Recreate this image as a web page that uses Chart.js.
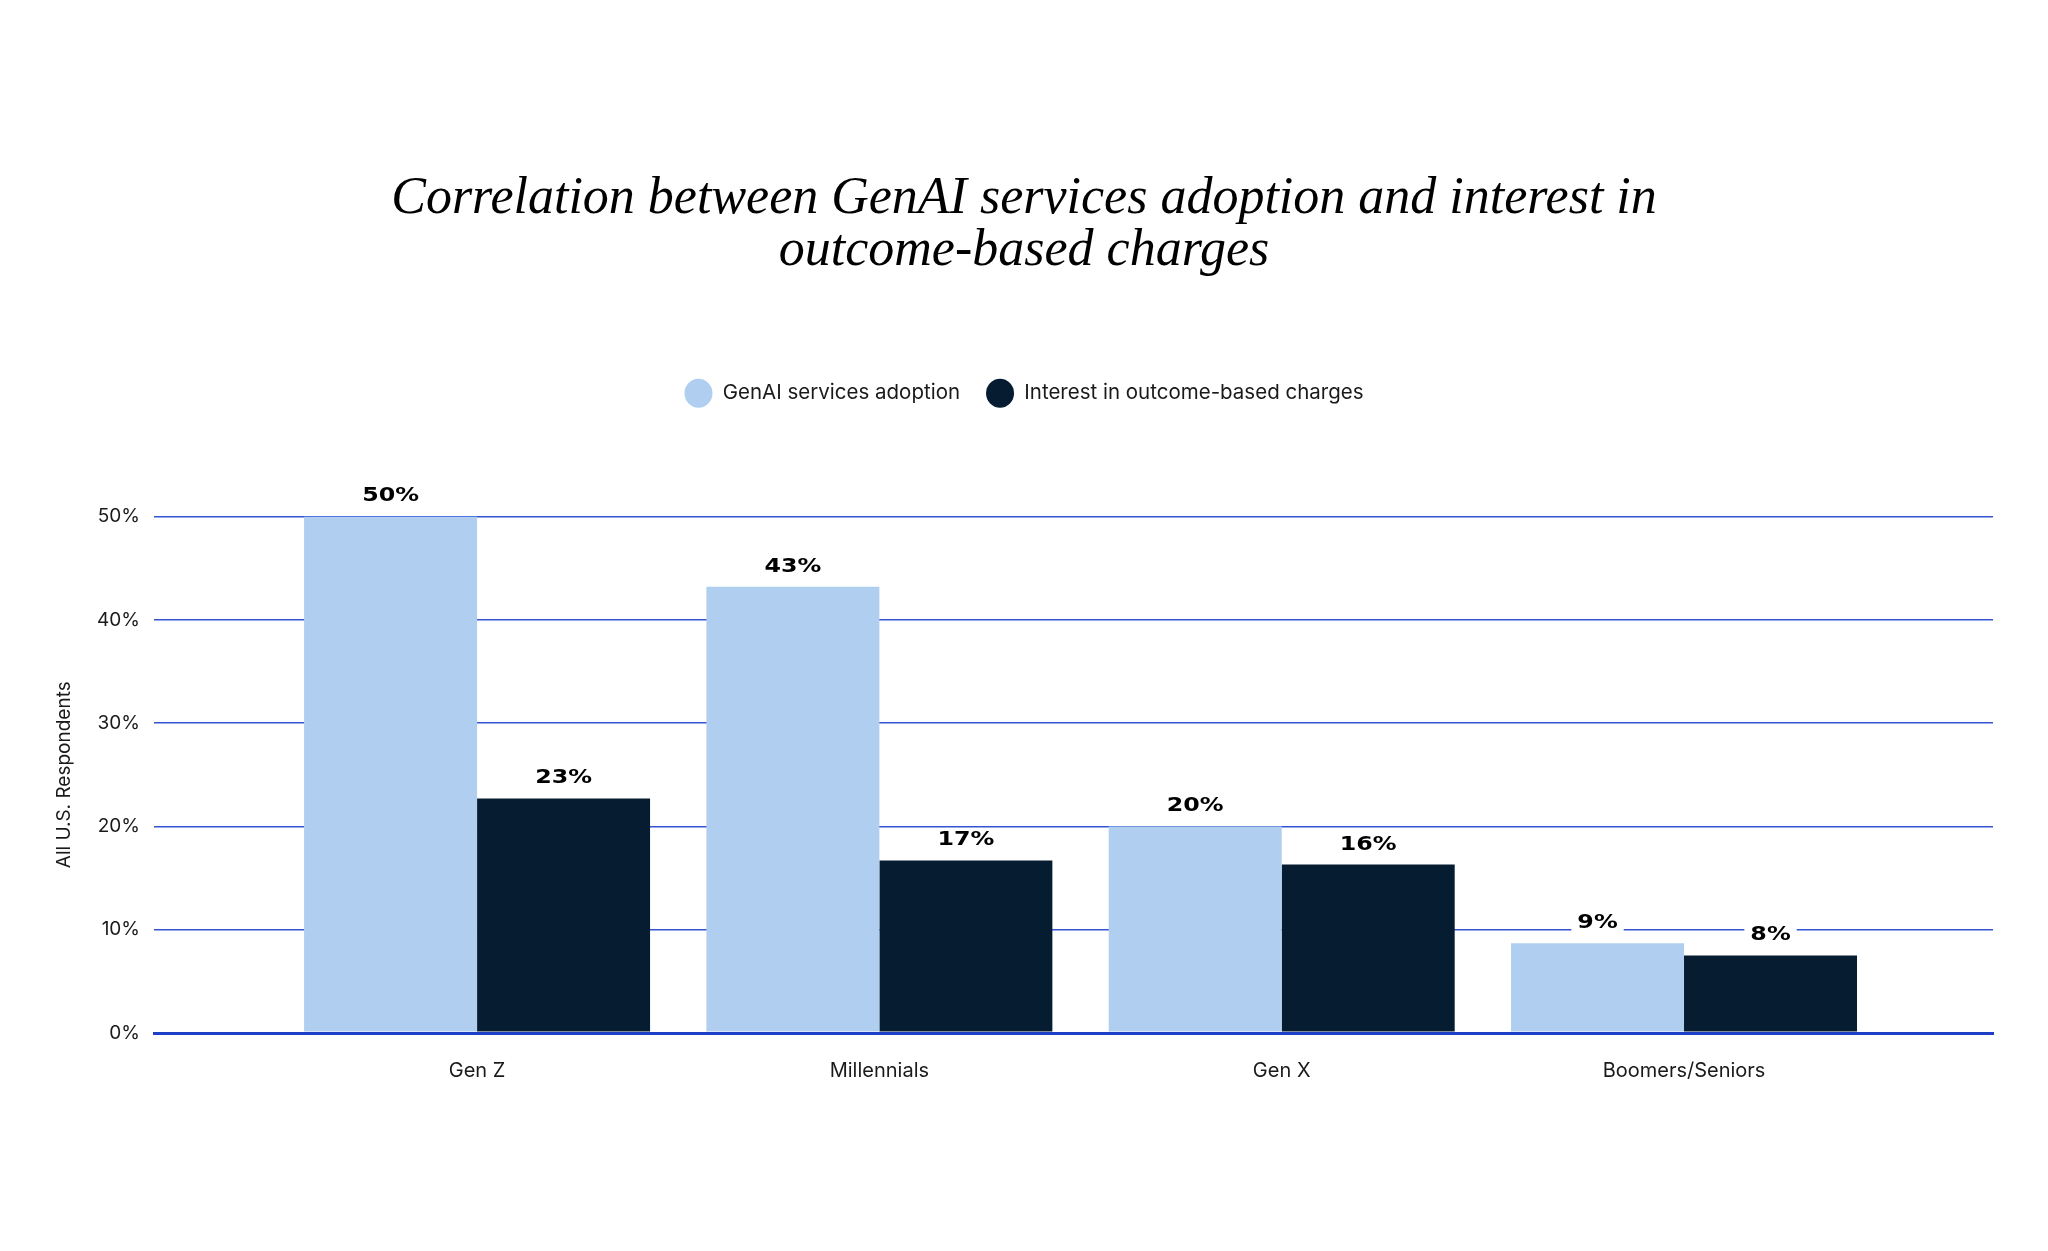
<!doctype html>
<html lang="en">
<head>
<meta charset="utf-8" />
<title>GenAI adoption vs outcome-based charges</title>
<script src="https://cdn.jsdelivr.net/npm/chart.js@4.4.4/dist/chart.umd.min.js"></script>
<style>
  html, body { margin: 0; padding: 0; background: #fff; }
  canvas { display: block; }
</style>
</head>
<body>
<canvas id="chart" width="2048" height="1251"></canvas>
<script>
// values (labels in the picture are rounded)
const generations = ["Gen Z", "Millennials", "Gen X", "Boomers/Seniors"];
const adoption = [50, 43.2, 20, 8.7];
const interest = [22.7, 16.7, 16.3, 7.5];
const yTicks = [0, 10, 20, 30, 40, 50];

const LIGHT = "#b0cff0";
const DARK = "#061c30";
const GRID = "#3355d4";
const ZERO = "#1d40c6";
const INK = "#1a1a1a";

// white-boxed percent labels above each bar (font stretched wide like the original)
const barLabels = {
  id: "barLabels",
  afterDatasetsDraw(chart) {
    const { ctx } = chart;
    const stretch = 1.25;
    ctx.save();
    ctx.font = "bold 19px 'DejaVu Sans'";
    ctx.textAlign = "center";
    ctx.textBaseline = "middle";
    chart.data.datasets.forEach((ds, i) => {
      chart.getDatasetMeta(i).data.forEach((bar, j) => {
        const txt = Math.round(ds.data[j].y) + "%";
        const w = ctx.measureText(txt).width * stretch + 12;
        const y = bar.y - 21;
        ctx.fillStyle = "#fff";
        ctx.fillRect(bar.x - w / 2, y - 11, w, 22);
        ctx.save();
        ctx.translate(bar.x, y + 1);
        ctx.scale(stretch, 1);
        ctx.fillStyle = "#000";
        ctx.fillText(txt, 0, 0);
        ctx.restore();
      });
    });
    ctx.restore();
  },
};

// extra room between the legend and the plot
const legendGap = {
  id: "legendGap",
  beforeLayout(chart) {
    const lg = chart.legend;
    if (!lg || lg._gapPatched) return;
    const fit = lg.fit;
    lg.fit = function () {
      fit.call(this);
      this.height += 103;
    };
    lg._gapPatched = true;
  },
};

new Chart(document.getElementById("chart"), {
  type: "bar",
  data: {
    datasets: [
      {
        label: "GenAI services adoption",
        data: adoption.map((v, i) => ({ x: i, y: v })),
        backgroundColor: LIGHT,
      },
      {
        label: "Interest in outcome-based charges",
        data: interest.map((v, i) => ({ x: i, y: v })),
        backgroundColor: DARK,
      },
    ],
  },
  options: {
    responsive: false,
    devicePixelRatio: 1,
    animation: false,
    categoryPercentage: 0.86,
    barPercentage: 1.0,
    layout: { padding: 0 },
    scales: {
      x: {
        type: "linear",
        offset: false,
        min: -0.803,
        max: 3.768,
        z: 1,
        afterBuildTicks: (s) => { s.ticks = generations.map((_, i) => ({ value: i })); },
        afterFit: (s) => { s.height = 218; },
        grid: { display: false, drawTicks: false },
        border: { display: true, color: ZERO, width: 3 },
        ticks: {
          autoSkip: false,
          maxRotation: 0,
          padding: 26,
          color: INK,
          font: { family: "Inter", size: 20 },
          callback: (v) => generations[v] ?? "",
        },
      },
      y: {
        min: 0,
        max: 50,
        afterBuildTicks: (s) => { s.ticks = yTicks.map((v) => ({ value: v })); },
        afterFit: (s) => { s.width = 154; },
        grid: {
          drawTicks: false,
          color: (c) => (c.tick && c.tick.value === 0 ? ZERO : GRID),
          lineWidth: (c) => (c.tick && c.tick.value === 0 ? 3 : 1.5),
        },
        border: { display: false },
        ticks: {
          padding: 14,
          color: INK,
          font: { family: "Inter", size: 19 },
          callback: (v) => v + "%",
        },
        title: {
          display: true,
          text: "All U.S. Respondents",
          color: INK,
          font: { family: "Inter", size: 19 },
          padding: { top: 53, bottom: 0 },
        },
      },
      // empty right-hand spacer so title and legend stay centred on the page
      yRight: {
        position: "right",
        grid: { display: false },
        border: { display: false },
        ticks: { display: false },
        afterFit: (s) => { s.width = 55; },
      },
    },
    plugins: {
      title: {
        display: true,
        text: ["Correlation between GenAI services adoption and interest in", "outcome-based charges"],
        color: "#000",
        font: { family: "'Liberation Serif'", size: 52, style: "italic", weight: "normal", lineHeight: 1.0 },
        padding: { top: 173, bottom: 80 },
      },
      legend: {
        position: "top",
        labels: {
          usePointStyle: true,
          pointStyle: "circle",
          pointStyleWidth: 28,
          padding: 26,
          color: INK,
          font: { family: "Inter", size: 20.5 },
        },
      },
      tooltip: { enabled: false },
    },
  },
  plugins: [barLabels, legendGap],
});
</script>
</body>
</html>
